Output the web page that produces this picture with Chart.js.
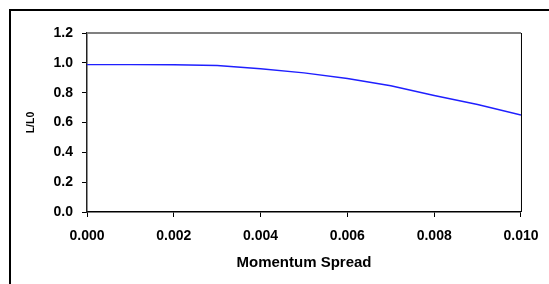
<!DOCTYPE html>
<html><head><meta charset="utf-8">
<script src="https://cdn.jsdelivr.net/npm/chart.js@4/dist/chart.umd.min.js"></script>
<style>
html,body{margin:0;padding:0;background:#fff;overflow:hidden}
#wrap{position:relative;width:549px;height:284px;overflow:hidden}
#frame{position:absolute;left:9px;top:9px;width:600px;height:300px;border-left:2px solid #000;border-top:2px solid #000;pointer-events:none}
canvas{position:absolute;left:0;top:0}
</style></head><body>
<div id="wrap"><canvas id="c" width="549" height="284"></canvas><div id="frame"></div></div>
<script>
const momentumSpread = [0.000, 0.001, 0.002, 0.003, 0.004, 0.005, 0.006, 0.007, 0.008, 0.009, 0.010];
const lOverL0 = [0.988, 0.988, 0.987, 0.982, 0.960, 0.933, 0.895, 0.846, 0.781, 0.721, 0.650];
const xTickValues = [0.000, 0.002, 0.004, 0.006, 0.008, 0.010];
const yTickValues = [0.0, 0.2, 0.4, 0.6, 0.8, 1.0, 1.2];
const xTitle = 'Momentum Spread';
const yTitle = 'L/L0';

Chart.defaults.font.family = '"Liberation Sans", Arial, sans-serif';
Chart.defaults.font.weight = 'bold';
Chart.defaults.color = '#000';

const frameLines = {
  id: 'frameLines',
  afterDraw(chart) {
    const {ctx, chartArea: a} = chart;
    ctx.save();
    ctx.strokeStyle = '#808080';
    ctx.lineWidth = 2;
    ctx.beginPath(); ctx.moveTo(a.left, a.top); ctx.lineTo(a.right, a.top); ctx.stroke();
    ctx.strokeStyle = '#000';
    ctx.lineWidth = 1;
    ctx.beginPath(); ctx.moveTo(a.right + 0.5, a.top); ctx.lineTo(a.right + 0.5, a.bottom); ctx.stroke();
    ctx.restore();
  }
};

new Chart(document.getElementById('c'), {
  type: 'line',
  data: {
    datasets: [{
      data: momentumSpread.map((x, i) => ({x, y: lOverL0[i]})),
      borderColor: '#1f1fff',
      borderWidth: 1.4,
      pointRadius: 0,
      tension: 0,
      fill: false
    }]
  },
  options: {
    responsive: false,
    animation: false,
    events: [],
    layout: {padding: {left: 0, top: 33, right: 28, bottom: 0}},
    plugins: {legend: {display: false}, tooltip: {enabled: false}},
    scales: {
      x: {
        type: 'linear', min: 0, max: 0.010,
        afterBuildTicks: s => { s.ticks = xTickValues.map(v => ({value: v})); },
        afterFit: s => { s.height = 72; },
        ticks: {font: {size: 14, weight: 'bold'}, padding: 10.5, maxRotation: 0, callback: v => Number(v).toFixed(3)},
        grid: {drawOnChartArea: false, drawTicks: true, tickLength: 5, tickColor: '#000', tickWidth: 1},
        border: {display: true, color: '#000', width: 1.5},
        title: {display: true, text: xTitle, font: {size: 15, weight: 'bold'}, padding: {top: 0, bottom: 12.5}}
      },
      y: {
        type: 'linear', min: 0, max: 1.2,
        afterBuildTicks: s => { s.ticks = yTickValues.map(v => ({value: v})); },
        afterFit: s => { s.width = 87; },
        ticks: {font: {size: 14, weight: 'bold'}, padding: 9, callback: v => Number(v).toFixed(1)},
        grid: {drawOnChartArea: false, drawTicks: true, tickLength: 5, tickColor: '#000', tickWidth: 1},
        border: {display: true, color: '#222', width: 1.5},
        title: {display: true, text: yTitle, font: {size: 10.5, weight: 'bold'}, padding: {top: 25, bottom: 0}}
      }
    }
  },
  plugins: [frameLines]
});
</script>
</body></html>
